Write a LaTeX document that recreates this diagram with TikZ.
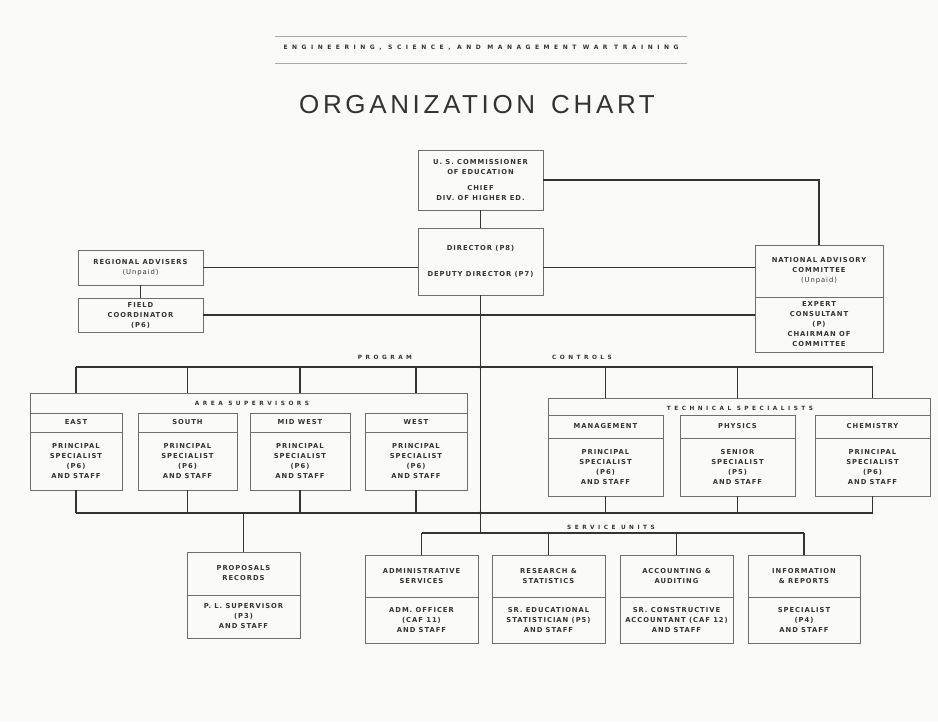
\documentclass[tikz,border=0pt]{standalone}
\usepackage{fontspec}
\setmainfont{DejaVu Sans}
\newfontfamily\titlefont[LetterSpace=14]{Liberation Sans}
\newfontfamily\boxfont[LetterSpace=14]{DejaVu Sans}
\newfontfamily\capfont[LetterSpace=60]{DejaVu Sans}
\newfontfamily\hdrfont[LetterSpace=75]{DejaVu Sans}
\usetikzlibrary{positioning}
\definecolor{ink}{HTML}{333333}
\definecolor{rule}{HTML}{6E6E6E}
\definecolor{paper}{HTML}{FAFAF8}

\begin{document}
\begin{tikzpicture}[x=1pt, y=-1pt,
  unit/.style={draw=rule, line width=0.7pt, align=center, inner sep=1pt,
    outer sep=0pt, text=ink, font={\boxfont\bfseries\fontsize{6.8}{10}\selectfont}},
  link/.style={draw=ink, line width=1.1pt},
  frame/.style={draw=rule, line width=0.7pt},
  grouplabel/.style={text=ink, inner sep=1pt,
    font={\capfont\bfseries\fontsize{5.8}{7}\selectfont}}
]
\fill[paper] (0,0) rectangle (938,721);
\useasboundingbox (0,0) rectangle (938,721);

\node[text=ink, font={\hdrfont\bfseries\fontsize{6}{7}\selectfont}] (hdr) at (481,48)
  {ENGINEERING, SCIENCE, AND MANAGEMENT WAR TRAINING};
\draw[rule!60, line width=0.6pt] (hdr.north) ++(-206,-6) -- ++(412,0);
\draw[rule!60, line width=0.6pt] (hdr.south) ++(-206,9) -- ++(412,0);
\node[text=ink, font={\titlefont\fontsize{26}{30}\selectfont}] (title) at (477,105)
  {ORGANIZATION\hspace{16pt}CHART};

\node[unit, minimum width=125pt, minimum height=60pt] (cmr) at (480.5,180)
  {U. S. COMMISSIONER\\OF EDUCATION\\[6pt]CHIEF\\DIV. OF HIGHER ED.};
\node[unit, minimum width=125pt, minimum height=67pt] (dir) at (480.5,261.5)
  {DIRECTOR (P8)\\[16pt]DEPUTY DIRECTOR (P7)};
\node[unit, minimum width=125pt, minimum height=35pt] (reg) at (140.5,267.5)
  {REGIONAL ADVISERS\\{\mdseries(Unpaid)}};
\node[unit, minimum width=125pt, minimum height=34pt] (fld) at (140.5,315)
  {FIELD\\COORDINATOR\\(P6)};
\node[unit, minimum width=128pt, minimum height=52pt] (nachd) at (819,271)
  {NATIONAL ADVISORY\\COMMITTEE\\{\mdseries(Unpaid)}};
\node[unit, minimum width=128pt, minimum height=55pt, below=0pt of nachd] (nacbd)
  {EXPERT\\CONSULTANT\\(P)\\CHAIRMAN OF\\COMMITTEE};

\node[unit, minimum width=92pt, minimum height=19pt] (easthd) at (76,422.5) {EAST};
\node[unit, minimum width=92pt, minimum height=58pt, below=0pt of easthd] (eastbd)
  {PRINCIPAL\\SPECIALIST\\(P6)\\AND STAFF};
\node[unit, minimum width=99pt, minimum height=19pt] (southhd) at (187.5,422.5) {SOUTH};
\node[unit, minimum width=99pt, minimum height=58pt, below=0pt of southhd] (southbd)
  {PRINCIPAL\\SPECIALIST\\(P6)\\AND STAFF};
\node[unit, minimum width=100pt, minimum height=19pt] (midwhd) at (300,422.5) {MID WEST};
\node[unit, minimum width=100pt, minimum height=58pt, below=0pt of midwhd] (midwbd)
  {PRINCIPAL\\SPECIALIST\\(P6)\\AND STAFF};
\node[unit, minimum width=102pt, minimum height=19pt] (westhd) at (416,422.5) {WEST};
\node[unit, minimum width=102pt, minimum height=58pt, below=0pt of westhd] (westbd)
  {PRINCIPAL\\SPECIALIST\\(P6)\\AND STAFF};

\node[unit, minimum width=115pt, minimum height=23pt] (mgmthd) at (605.5,426.5) {MANAGEMENT};
\node[unit, minimum width=115pt, minimum height=58pt, below=0pt of mgmthd] (mgmtbd)
  {PRINCIPAL\\SPECIALIST\\(P6)\\AND STAFF};
\node[unit, minimum width=115pt, minimum height=23pt] (physhd) at (737.5,426.5) {PHYSICS};
\node[unit, minimum width=115pt, minimum height=58pt, below=0pt of physhd] (physbd)
  {SENIOR\\SPECIALIST\\(P5)\\AND STAFF};
\node[unit, minimum width=115pt, minimum height=23pt] (chemhd) at (872.5,426.5) {CHEMISTRY};
\node[unit, minimum width=115pt, minimum height=58pt, below=0pt of chemhd] (chembd)
  {PRINCIPAL\\SPECIALIST\\(P6)\\AND STAFF};

\node[unit, minimum width=113pt, minimum height=43pt] (prophd) at (243.5,573.5)
  {PROPOSALS\\RECORDS};
\node[unit, minimum width=113pt, minimum height=43pt, below=0pt of prophd] (propbd)
  {P. L. SUPERVISOR\\(P3)\\AND STAFF};
\node[unit, minimum width=113pt, minimum height=42pt] (admhd) at (421.5,576)
  {ADMINISTRATIVE\\SERVICES};
\node[unit, minimum width=113pt, minimum height=46pt, below=0pt of admhd] (admbd)
  {ADM. OFFICER\\(CAF 11)\\AND STAFF};
\node[unit, minimum width=113pt, minimum height=42pt] (reshd) at (548.5,576)
  {RESEARCH \&\\STATISTICS};
\node[unit, minimum width=113pt, minimum height=46pt, below=0pt of reshd] (resbd)
  {SR. EDUCATIONAL\\STATISTICIAN (P5)\\AND STAFF};
\node[unit, minimum width=113pt, minimum height=42pt] (acchd) at (676.5,576)
  {ACCOUNTING \&\\AUDITING};
\node[unit, minimum width=113pt, minimum height=46pt, below=0pt of acchd] (accbd)
  {SR. CONSTRUCTIVE\\ACCOUNTANT (CAF 12)\\AND STAFF};
\node[unit, minimum width=112pt, minimum height=42pt] (infhd) at (804,576)
  {INFORMATION\\\& REPORTS};
\node[unit, minimum width=112pt, minimum height=46pt, below=0pt of infhd] (infbd)
  {SPECIALIST\\(P4)\\AND STAFF};

\coordinate (hub) at (480.5,367);
\coordinate (base) at (480.5,513);
\coordinate (svc) at (480.5,533);
\coordinate (areatop) at (0,393);
\coordinate (techtop) at (0,398);

\draw[link] (cmr) -- (dir);
\draw[link] (cmr.east) -| (nachd);
\draw[link] (reg) -- (fld);
\draw[link] (reg.east) -- (reg.east -| dir.west);
\draw[link] (dir.east |- reg.east) -- (reg.east -| nachd.west);
\draw[link] (fld.east) -- (fld.east -| nacbd.west);
\draw[link] (dir) -- (hub) -- (base) -- (svc);

\draw[link] (easthd |- hub) -- (chemhd |- hub);
\foreach \b in {east,south,midw,west}
  \draw[link] (\b hd |- hub) -- (\b hd |- areatop);
\foreach \b in {mgmt,phys,chem}
  \draw[link] (\b hd |- hub) -- (\b hd |- techtop);
\draw[frame] (easthd.north west) -- (easthd.north west |- areatop)
  -- (westhd.north east |- areatop) -- (westhd.north east);
\draw[frame] (mgmthd.north west) -- (mgmthd.north west |- techtop)
  -- (chemhd.north east |- techtop) -- (chemhd.north east);

\draw[link] (eastbd |- base) -- (chembd |- base);
\foreach \b in {east,south,midw,west,mgmt,phys,chem}
  \draw[link] (\b bd) -- (\b bd |- base);
\draw[link] (prophd |- base) -- (prophd);
\draw[link] (admhd |- svc) -- (infhd |- svc);
\foreach \b in {adm,res,acc,inf}
  \draw[link] (\b hd |- svc) -- (\b hd);
\fill[ink] (hub) circle (1.8pt);
\fill[ink] (base) circle (1.8pt);

\node[grouplabel] (pgmlbl) at (385,357) {PROGRAM};
\node[grouplabel] (ctllbl) at (582,357) {CONTROLS};
\node[grouplabel] (arealbl) at (252,403) {AREA SUPERVISORS};
\node[grouplabel] (techlbl) at (740,408) {TECHNICAL SPECIALISTS};
\node[grouplabel] (svclbl) at (611,527) {SERVICE UNITS};
\end{tikzpicture}
\end{document}
